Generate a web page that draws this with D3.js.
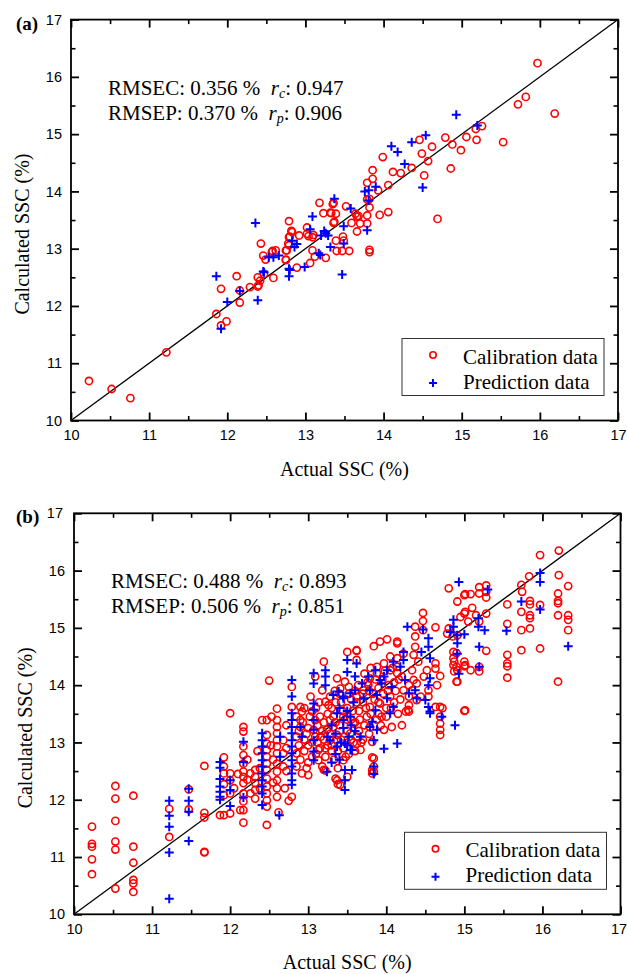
<!DOCTYPE html>
<html>
<head>
<meta charset="utf-8">
<script src="https://cdn.jsdelivr.net/npm/d3@7"></script>
<style>
  body { margin: 0; background: #fff; }
  svg { display: block; }
  .tick text { font-family: "Liberation Sans", Arial, sans-serif; font-size: 14.5px; fill: #000; }
  .serif { font-family: "Liberation Serif", "Times New Roman", serif; }
</style>
</head>
<body>
<svg id="chart" width="627" height="974"></svg>
<script>
// ---- data: [actual SSC, calculated SSC] ----
const calA = [
  [10.23,10.69],[10.52,10.55],[10.76,10.39],[11.22,11.19],[11.86,11.86],[11.92,12.30],[11.92,11.66],[11.99,11.73],
  [12.12,12.52],[12.16,12.06],[12.16,12.27],[12.29,12.33],[12.39,12.34],[12.39,12.50],[12.43,13.09],[12.46,12.88],
  [12.49,12.81],[12.47,12.56],[12.59,12.49],[12.58,12.96],[12.62,12.97],[12.75,12.97],[12.75,12.80],[12.79,13.48],
  [12.79,13.20],[12.82,13.31],[12.79,13.06],[12.89,12.67],[12.92,13.23],[13.02,13.37],[13.02,13.26],[13.06,12.75],
  [13.09,12.97],[13.09,13.20],[13.18,13.80],[13.23,13.62],[13.26,12.84],[13.33,13.62],[13.36,13.80],[13.36,13.45],
  [13.39,13.61],[13.39,13.14],[13.40,12.96],[13.47,12.96],[13.48,13.21],[13.49,13.14],[13.52,13.74],[13.56,12.96],
  [13.59,13.45],[13.64,13.61],[13.66,13.56],[13.66,13.30],[13.70,13.44],[13.79,14.15],[13.79,13.86],[13.79,13.58],
  [13.79,13.44],[13.82,13.72],[13.82,13.87],[13.82,12.98],[13.82,12.94],[13.86,14.37],[13.86,14.22],[13.93,14.02],
  [13.95,13.59],[13.99,14.60],[14.06,14.11],[14.06,13.64],[14.12,14.34],[14.22,14.32],[14.36,14.41],[14.46,14.90],
  [14.49,14.66],[14.52,14.28],[14.57,14.53],[14.62,14.78],[14.69,13.52],[14.79,14.94],[14.86,14.40],[14.88,14.82],
  [14.99,14.72],[15.06,14.95],[15.18,15.09],[15.19,14.90],[15.26,15.14],[15.53,14.86],[15.72,15.52],[15.82,15.65],
  [15.97,16.24],[16.19,15.36],[13.35,13.78],[13.32,13.63],[13.37,13.47],[12.83,13.29],[13.04,13.22],[13.10,13.24],
  [12.80,13.21],[12.78,13.09],[12.57,12.94],[12.76,12.97],[13.12,12.86],[12.75,12.81],[12.42,12.44],[12.40,12.36],
  [13.68,13.57]
];
const preA = [
  [11.86,12.52],[11.92,11.60],[12.00,12.07],[12.16,12.26],[12.36,13.45],[12.39,12.10],[12.47,12.59],[12.53,12.85],
  [12.59,12.85],[12.66,12.88],[12.79,12.52],[12.79,12.65],[12.83,13.14],[12.86,13.03],[12.89,13.08],[12.99,12.68],
  [13.06,13.34],[13.09,13.56],[13.17,12.92],[13.20,13.23],[13.24,13.31],[13.29,13.23],[13.32,13.03],[13.37,13.87],
  [13.47,12.55],[13.49,13.39],[13.49,13.09],[13.58,13.70],[13.79,13.32],[13.76,14.00],[13.81,14.02],[13.81,13.84],
  [13.90,14.08],[14.10,14.79],[14.18,14.69],[14.27,14.48],[14.36,14.86],[14.50,14.07],[14.54,14.98],[14.93,15.34],
  [15.20,15.15],[12.46,12.60],[12.80,12.63],[13.19,12.89],[13.26,13.27]
];
const calB = [
  [10.23,11.53],[10.23,11.23],[10.23,11.18],[10.23,10.96],[10.23,10.70],
  [10.53,12.24],[10.53,12.02],[10.53,11.63],[10.53,11.27],[10.53,11.13],[10.53,10.45],
  [10.76,12.07],[10.76,11.18],[10.76,10.90],[10.76,10.60],[10.76,10.54],[10.76,10.39],
  [11.22,11.84],[11.22,11.35],[11.47,12.18],[11.47,11.83],
  [11.67,12.59],[11.67,11.77],[11.67,11.69],[11.67,11.09],[11.67,11.08],[11.87,11.73],
  [11.92,12.74],[11.92,12.58],[11.92,12.46],[11.92,12.27],[11.92,12.08],[11.92,11.73],
  [12.00,13.51],[12.00,12.46],[12.00,12.34],[12.00,12.11],[12.00,11.76],
  [12.17,13.27],[12.17,13.19],[12.17,12.93],[12.17,12.78],[12.17,12.63],[12.17,12.49],[12.17,12.40],[12.17,12.29],
  [12.17,12.11],[12.17,11.97],[12.17,11.82],[12.17,11.60],[12.13,11.82],
  [12.32,12.52],[12.32,12.40],[12.32,12.29],[12.32,12.17],[12.32,12.02],[12.26,12.46],[12.26,12.11],
  [12.41,13.39],[12.47,13.39],[12.53,13.45],[12.60,13.39],[12.60,13.27],[12.60,13.59],[12.50,14.08],
  [12.47,13.13],[12.47,12.98],[12.47,12.87],[12.47,12.75],[12.47,12.63],[12.47,12.52],[12.47,12.37],[12.47,12.23],
  [12.47,12.11],[12.47,11.99],[12.47,11.88],[12.47,11.56],
  [12.60,13.16],[12.60,13.04],[12.60,12.93],[12.60,12.81],[12.60,12.63],[12.60,12.49],[12.60,12.34],[12.60,12.20],
  [12.60,12.05],[12.62,11.78],[12.68,13.04],[12.68,12.81],[12.68,12.58],
  [12.79,13.97],[12.79,13.62],[12.79,12.05],[12.90,13.62],[12.92,13.54],[12.90,13.39],[12.90,13.27],
  [12.85,13.10],[12.85,12.81],[12.85,12.58],[12.92,12.46],[12.98,12.55],[13.00,12.43],
  [13.03,13.80],[13.05,13.54],[13.09,13.39],[13.07,13.22],[13.09,13.10],[13.13,12.87],[13.13,12.69],[13.18,12.58],
  [13.20,12.52],[13.20,14.41],[13.09,14.15],[13.18,13.91],[13.22,13.71],[13.28,13.80],[13.37,14.12],[13.41,13.94],
  [13.47,14.06],[13.52,13.97],[13.50,14.58],[13.62,14.60],[13.62,14.44],
  [13.28,13.04],[13.37,13.13],[13.45,12.69],[13.50,12.40],[13.37,12.34],[13.41,12.26],
  [13.15,13.45],[13.28,13.39],[13.24,13.22],[13.32,13.27],
  [12.95,13.05],[12.95,12.85],[13.00,13.25],[13.00,12.95],[13.05,12.75],[13.10,13.60],[13.12,13.00],[13.15,12.90],
  [13.18,13.20],[13.20,13.05],[13.22,12.75],[13.25,13.50],[13.25,12.95],[13.30,12.85],[13.30,13.60],[13.33,12.70],
  [13.35,13.70],[13.35,13.35],[13.38,12.55],[13.40,13.85],[13.42,13.05],[13.45,13.45],[13.45,12.90],[13.50,13.60],
  [13.50,13.20],[13.52,12.80],[13.55,13.75],[13.55,13.40],[13.58,13.00],[13.60,13.90],[13.60,12.85],[13.65,13.55],
  [13.65,13.20],[13.70,13.70],[13.70,13.05],[13.72,14.20],[13.75,13.45],[13.78,13.90],[13.80,14.30],[13.85,13.75],
  [13.90,13.50],[13.90,13.95],[13.95,14.10],[14.00,13.60],[14.02,13.90],[14.05,14.50],[14.10,13.70],[14.10,14.05],
  [14.15,13.50],[14.20,14.15],[14.20,13.30],[13.35,12.37],[13.38,12.27],[13.22,12.51],[13.82,12.74],[13.82,12.52],
  [13.82,12.46],
  [12.85,13.45],[12.88,13.20],[12.88,12.95],[12.90,12.70],[12.93,13.35],[12.95,13.60],[12.98,13.15],[13.00,12.65],
  [13.02,13.45],[13.05,13.00],[13.10,12.80],[13.12,13.30],[13.14,13.70],[13.16,13.10],[13.20,13.35],[13.22,12.90],
  [13.26,13.65],[13.28,13.15],[13.30,12.95],[13.32,13.45],[13.34,13.90],[13.36,13.05],[13.38,12.85],[13.40,13.30],
  [13.42,13.70],[13.44,13.55],[13.46,13.10],[13.48,12.75],[13.50,13.40],[13.52,13.85],[13.55,13.05],[13.57,13.55],
  [13.60,13.35],[13.62,13.70],[13.64,14.00],[13.66,13.40],[13.68,13.00],[13.70,13.85],[13.72,13.30],[13.74,13.60],
  [13.76,14.05],[13.78,13.15],[13.80,13.50],[13.83,13.85],[13.86,14.10],[13.88,13.40],[13.90,13.70],[13.93,13.30],
  [13.96,13.85],[13.98,14.25],[14.00,13.45],[14.03,14.00],[14.06,13.60],[14.08,14.30],[14.12,13.90],[14.16,14.10],
  [14.18,13.75],[12.72,13.30],[12.72,12.90],[12.72,12.50],[12.55,12.70],[12.55,12.30],[12.52,12.95],[12.38,12.55],
  [12.38,12.20],[12.35,12.85],[12.22,12.70],[12.22,12.35],[12.10,12.45],[12.05,12.20],[12.70,12.20],[12.75,11.98],
  [14.80,15.69],[15.01,15.59],[14.91,15.46],[15.01,15.28],[14.47,15.26],[14.47,15.12],[14.37,15.02],[14.47,14.96],
  [14.63,15.01],[14.80,14.99],[14.78,14.90],[14.91,14.87],[14.14,14.76],[14.01,14.80],[13.92,14.76],[13.84,14.68],
  [13.62,14.61],[14.37,14.85],[14.37,14.67],[14.35,14.53],[14.41,14.41],[14.33,14.26],[14.35,14.09],[14.29,14.00],
  [14.33,13.91],[14.29,13.54],[14.25,13.54],[14.63,14.38],[14.63,14.29],[14.69,14.16],[14.65,14.00],[14.54,13.80],
  [14.54,13.91],[14.86,14.58],[14.86,14.47],[14.86,14.35],[14.91,14.26],[15.01,14.35],[14.91,14.06],[14.63,13.62],
  [14.69,13.62],[14.69,13.45],[14.69,13.33],[14.69,13.22],[14.69,13.13],[15.01,13.56],[14.14,14.73],[14.22,14.55],
  [14.14,14.47],[14.14,14.32],[14.14,14.21],[14.05,14.26],[13.97,14.38],[13.88,14.32],[13.88,14.21],[13.79,14.12],
  [13.77,14.00],[13.71,13.91],[13.62,13.80],[14.48,14.15],[14.39,14.03],[14.52,14.26],[14.29,13.80],[14.39,13.74],
  [14.29,13.65],[14.22,13.91],[14.05,13.80],[13.92,13.68],[13.79,13.62],[13.94,13.45],[14.07,13.27],[13.97,13.22],
  [13.79,13.27],[13.82,13.01],[13.62,13.10],[13.62,12.98],[13.67,12.87],[13.84,12.72],[13.84,12.58],[13.84,12.49],
  [13.54,13.16],[13.58,13.33],
  [15.00,15.57],[15.08,15.59],[15.10,15.35],[15.19,15.71],[15.19,15.60],[15.28,15.74],[15.28,15.63],[15.28,15.53],
  [15.00,15.25],[15.05,15.11],[14.95,15.19],[15.15,15.22],[15.19,15.11],[15.28,15.25],[15.28,14.60],[14.85,14.85],
  [14.90,14.56],[14.87,14.41],[14.90,14.32],[14.87,14.24],[14.90,14.06],[15.00,14.41],[15.00,14.33],[15.08,14.26],
  [15.19,14.32],[15.19,14.24],[15.00,13.55],[14.72,13.60],[14.28,13.57],[14.44,13.80],
  [15.83,15.90],[16.21,15.92],[15.73,15.75],[16.33,15.73],[15.74,15.63],[16.20,15.60],[15.84,15.47],[15.84,15.41],
  [15.55,15.41],[16.20,15.47],[16.20,15.43],[15.73,15.28],[15.97,15.40],[15.84,15.22],[15.84,15.17],[16.20,15.22],
  [16.33,15.22],[16.33,15.14],[16.33,14.96],[15.55,15.07],[15.73,14.96],[15.84,14.99],[15.55,14.53],[15.55,14.38],
  [15.55,14.33],[15.73,14.61],[15.97,14.64],[15.55,14.13],[16.20,14.06],[15.97,16.27],[16.21,16.35]
];
const preB = [
  [11.22,11.98],[11.22,11.72],[11.22,11.53],[11.22,11.08],[11.22,10.27],
  [11.47,12.19],[11.47,11.98],[11.47,11.79],[11.47,11.28],
  [11.87,12.66],[11.87,12.56],[11.87,12.36],[11.87,12.23],[11.87,12.14],[11.87,12.05],[11.87,12.00],
  [12.00,12.34],[12.00,12.17],[12.00,11.89],[12.17,13.01],[12.17,12.66],[12.17,12.04],
  [12.41,13.16],[12.41,13.04],[12.41,12.93],[12.41,12.81],[12.41,12.69],[12.41,12.58],[12.41,12.46],[12.41,12.34],
  [12.41,12.23],[12.41,12.11],[12.41,11.91],[12.63,11.73],[12.64,13.10],[12.64,12.75],
  [12.79,14.09],[12.79,13.80],[12.79,13.51],[12.79,13.39],[12.79,13.27],[12.79,13.16],[12.79,13.04],[12.79,12.93],
  [12.79,12.81],[12.79,12.69],[12.79,12.58],[12.79,12.46],[12.79,12.34],[12.79,12.26],[12.90,13.27],[12.92,13.10],
  [13.07,14.21],[13.07,14.03],[13.07,13.68],[13.07,13.57],[13.07,13.39],[13.07,13.22],[13.07,13.04],[13.07,12.84],
  [13.07,12.69],[13.22,14.26],[13.22,14.15],[13.22,14.00],
  [13.32,13.83],[13.39,13.89],[13.45,13.77],[13.54,13.86],[13.60,13.91],
  [13.28,13.04],[13.37,12.93],[13.47,12.98],[13.56,12.87],[13.47,12.52],[13.47,12.34],[13.47,12.17],[13.24,12.49],
  [13.50,14.44],[13.62,14.38],[13.50,14.23],[13.37,13.51],[13.45,13.39],[13.54,13.45],
  [13.30,13.30],[13.35,13.15],[13.40,13.60],[13.42,13.00],[13.45,13.25],[13.50,13.55],[13.52,13.10],[13.55,13.30],
  [13.58,13.70],[13.60,13.20],[13.35,12.80],[13.40,12.70],[13.50,12.95],[13.45,13.80],[13.30,12.65],[13.25,13.10],
  [14.93,15.80],[14.86,15.14],[14.86,15.02],[14.91,14.87],[14.91,14.73],[14.91,14.55],[14.93,14.20],[14.54,14.82],
  [14.54,14.67],[14.45,14.58],[14.56,14.47],[14.54,14.00],[14.56,14.12],[14.71,13.45],[14.56,13.54],[14.88,13.30],
  [14.27,15.02],[14.47,14.97],[14.22,14.58],[14.22,14.44],[14.18,14.32],[14.09,14.41],[14.01,14.26],[13.97,14.15],
  [13.94,14.03],[14.07,13.97],[14.29,13.86],[14.39,13.77],[14.50,13.74],[14.54,13.62],[14.56,13.51],[14.37,13.91],
  [14.24,14.09],[13.69,14.03],[13.77,14.15],[13.86,14.26],[13.92,14.09],[13.60,14.15],[13.79,13.91],[13.88,13.83],
  [13.71,13.77],[14.01,13.77],[14.09,13.62],[14.05,13.51],[13.86,13.56],[13.82,13.36],[13.79,13.27],[13.88,13.22],
  [13.67,13.10],[13.84,13.04],[13.97,12.89],[14.14,12.98],[13.84,12.58],[13.84,12.45],[13.54,12.87],[13.56,12.52],
  [15.30,15.67],[15.18,15.17],[15.18,15.02],[15.26,14.96],[15.19,14.67],[15.19,14.32],[15.00,14.89],[14.82,14.93],
  [15.54,14.95],[15.97,15.96],[15.97,15.80],[15.97,15.32],[15.73,15.46],[16.33,14.68]
];
const tickValues = [10, 11, 12, 13, 14, 15, 16, 17];
const minorValues = [10.5, 11.5, 12.5, 13.5, 14.5, 15.5, 16.5];
const legendLabels = ["Calibration data", "Prediction data"];

const svg = d3.select("#chart");
svg.append("rect").attr("width", 627).attr("height", 974).attr("fill", "#fff");

function drawPanel(box, cal, pre, tag, stats) {
  const x = d3.scaleLinear().domain([10, 17]).range([box.left, box.right]);
  const y = d3.scaleLinear().domain([10, 17]).range([box.bottom, box.top]);
  const g = svg.append("g");
  const w = box.right - box.left, h = box.bottom - box.top;

  // axes with inward ticks on all four sides
  const axes = [
    [d3.axisBottom(x), `translate(0,${box.bottom})`, true],
    [d3.axisTop(x), `translate(0,${box.top})`, false],
    [d3.axisLeft(y), `translate(${box.left},0)`, true],
    [d3.axisRight(y), `translate(${box.right},0)`, false]
  ];
  axes.forEach(([ax, tr, labels]) => {
    const major = g.append("g").attr("transform", tr)
      .call(ax.tickValues(tickValues).tickSize(-8).tickPadding(labels ? 9 : 0)
        .tickFormat(labels ? d3.format("d") : ""));
    major.select(".domain").remove();
    major.selectAll("line").attr("stroke", "#000").attr("stroke-width", 1.8);
    g.append("g").attr("transform", tr)
      .call(ax.tickValues(minorValues).tickSize(-4.5).tickFormat(""))
      .call(s => s.select(".domain").remove())
      .selectAll("line").attr("stroke", "#000").attr("stroke-width", 1.6);
  });
  // keep the last x label inside the page
  g.selectAll(".tick text").filter(d => d === 17 && box.right > 619).attr("dx", -2);

  g.append("rect")
    .attr("x", box.left).attr("y", box.top).attr("width", w).attr("height", h)
    .attr("fill", "none").attr("stroke", "#000").attr("stroke-width", 1.8);

  // 1:1 line
  g.append("line")
    .attr("x1", x(10)).attr("y1", y(10)).attr("x2", x(17)).attr("y2", y(17))
    .attr("stroke", "#000").attr("stroke-width", 1.3);

  // calibration circles
  g.append("g").selectAll("circle").data(cal).join("circle")
    .attr("cx", d => x(d[0])).attr("cy", d => y(d[1])).attr("r", 3.6)
    .attr("fill", "none").attr("stroke", "#ff0000").attr("stroke-width", 1.6);

  // prediction plus signs
  g.append("g").selectAll("path").data(pre).join("path")
    .attr("transform", d => `translate(${x(d[0])},${y(d[1])})`)
    .attr("d", "M-4.5,0H4.5M0,-4.5V4.5")
    .attr("stroke", "#0000ff").attr("stroke-width", 2).attr("fill", "none");

  // axis titles
  svg.append("text").attr("class", "serif")
    .attr("x", (box.left + box.right) / 2).attr("y", box.bottom + 55)
    .attr("text-anchor", "middle").attr("font-size", 20)
    .text("Actual SSC (%)");
  svg.append("text").attr("class", "serif")
    .attr("transform", `translate(${box.left - 42},${(box.top + box.bottom) / 2 + 14}) rotate(-90)`)
    .attr("text-anchor", "middle").attr("font-size", 20)
    .text("Calculated SSC (%)");

  // panel tag
  svg.append("text").attr("class", "serif")
    .attr("x", 16).attr("y", box.top + 10).attr("font-size", 19).attr("font-weight", "bold")
    .text(tag);

  // statistics
  stats.forEach((s, i) => {
    const t = svg.append("text").attr("class", "serif").attr("font-size", 21)
      .attr("x", box.left + 37).attr("y", box.top + 75 + i * 25)
      .style("white-space", "pre");
    t.append("tspan").text(s[0] + "  ");
    t.append("tspan").attr("font-style", "italic").text("r");
    t.append("tspan").attr("font-style", "italic").attr("font-size", 14).attr("dy", 3).text(s[1]);
    t.append("tspan").attr("dy", -3).text(": " + s[2]);
  });

  // legend
  const lg = svg.append("g").attr("transform", `translate(${box.right - 216},${box.bottom - 82})`);
  lg.append("rect").attr("width", 202).attr("height", 57)
    .attr("fill", "#fff").attr("stroke", "#333").attr("stroke-width", 1);
  lg.append("circle").attr("cx", 31).attr("cy", 16.5).attr("r", 3.2)
    .attr("fill", "none").attr("stroke", "#ff0000").attr("stroke-width", 1.6);
  lg.append("path").attr("d", "M27,44.5H35M31,40.5V48.5")
    .attr("stroke", "#0000ff").attr("stroke-width", 2);
  legendLabels.forEach((lab, i) => {
    lg.append("text").attr("class", "serif").attr("font-size", 21)
      .attr("x", 61).attr("y", 25 + i * 25).text(lab);
  });
}

drawPanel({ left: 71, right: 618, top: 19.6, bottom: 420.5 }, calA, preA, "(a)",
  [["RMSEC: 0.356 %", "c", "0.947"], ["RMSEP: 0.370 %", "p", "0.906"]]);
drawPanel({ left: 74, right: 620.5, top: 513.3, bottom: 914.3 }, calB, preB, "(b)",
  [["RMSEC: 0.488 %", "c", "0.893"], ["RMSEP: 0.506 %", "p", "0.851"]]);
</script>
</body>
</html>
